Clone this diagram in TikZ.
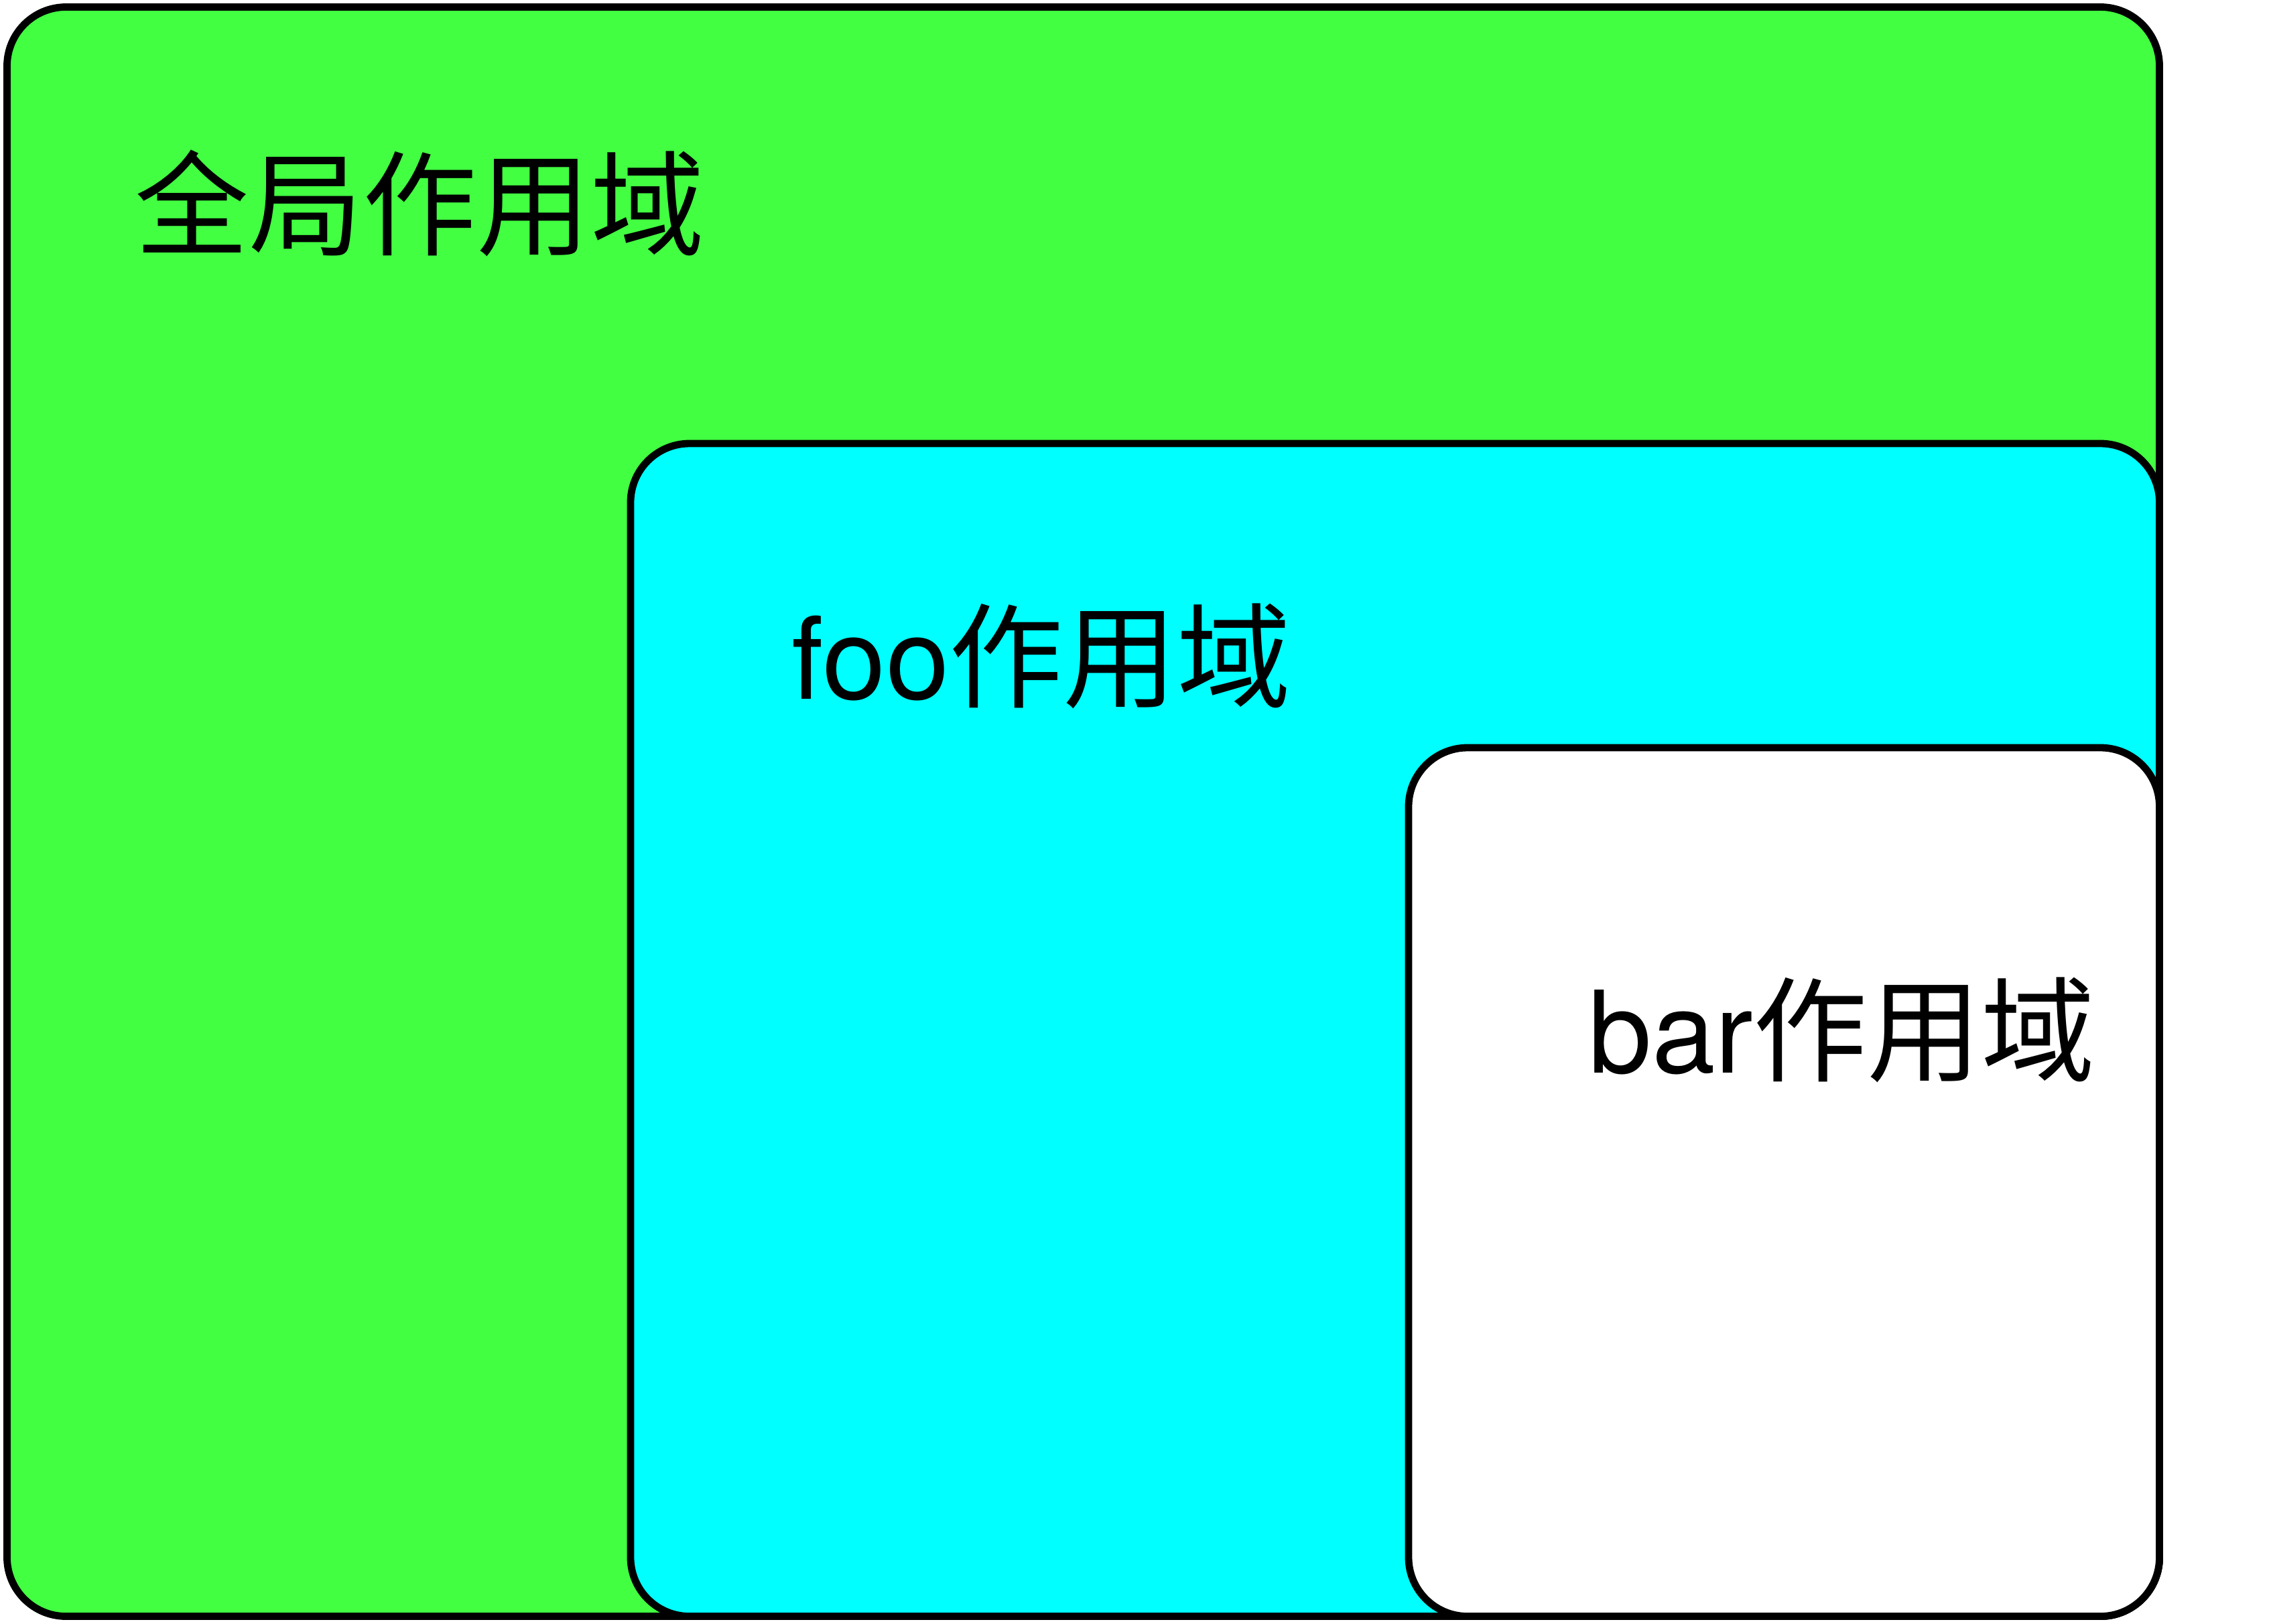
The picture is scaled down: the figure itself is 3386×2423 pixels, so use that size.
\documentclass[tikz,border=0pt]{standalone}
\usepackage{fontspec}
\setmainfont{TeX Gyre Heros}
\newfontfamily\cjk{Noto Sans CJK SC}
\definecolor{scopegreen}{RGB}{66,255,66}
\definecolor{scopecyan}{RGB}{0,255,255}
\begin{document}
\begin{tikzpicture}[x=0.25pt,y=-0.25pt,
  scopebox/.style={draw=black,line width=2.7pt,rounded corners=22pt},
  scopelabel/.style={anchor=base west,inner sep=0pt,font=\fontsize{42.5pt}{50pt}\selectfont}]
\useasboundingbox (0,0) rectangle (3386,2423);
\draw[scopebox,fill=scopegreen] (10.5,10.5) rectangle (3222.5,2412.5);
\draw[scopebox,fill=scopecyan] (941,662) rectangle (3222.5,2412.5);
\draw[scopebox,fill=white] (2102,1116) rectangle (3222.5,2412.5);
\node[scopelabel] (globallabel) at (201,368) {\cjk 全局作用域};
\node[scopelabel] (foolabel) at (1181,1043) {foo\cjk 作用域};
\node[scopelabel] (barlabel) at (2370,1601) {bar\cjk 作用域};
\end{tikzpicture}
\end{document}
